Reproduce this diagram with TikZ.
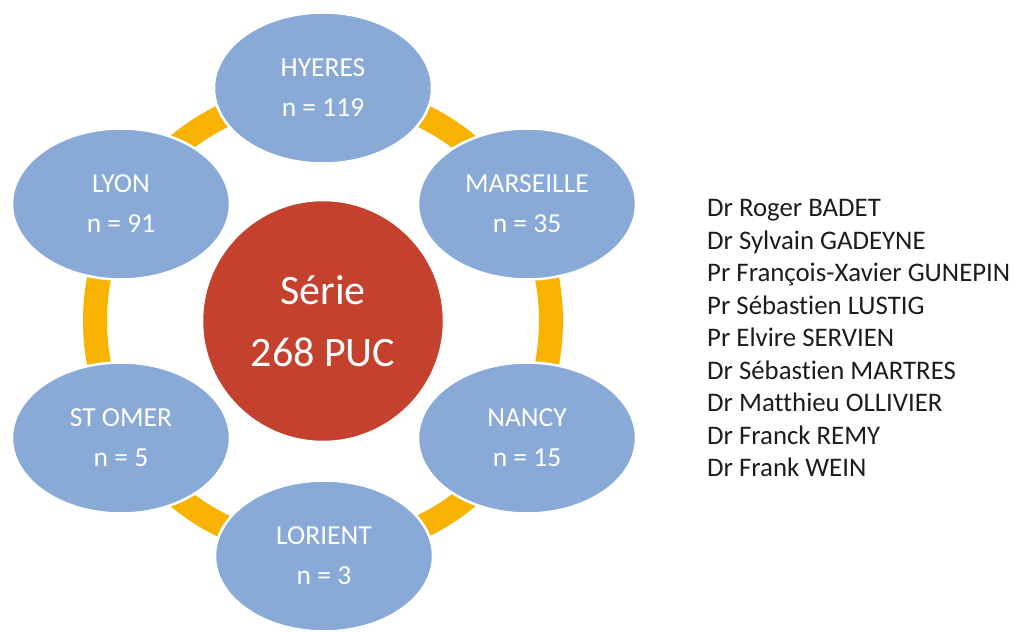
\documentclass[tikz,border=0pt]{standalone}
\usepackage{fontspec}
\setmainfont[Ligatures=NoCommon]{Carlito}
\usetikzlibrary{shapes.geometric,shadows}
\definecolor{cityblue}{HTML}{89A9D6}
\definecolor{centerred}{HTML}{C4412E}
\definecolor{ringorange}{HTML}{F8B300}
\definecolor{nametext}{HTML}{1C1C1C}
\tikzset{
  city/.style={ellipse, fill=cityblue, draw=white, line width=2.5pt,
    minimum width=218pt, minimum height=151pt, inner sep=0pt,
    text=white, align=center, font=\fontsize{27.5}{40}\selectfont,
    drop shadow={opacity=0.25, shadow xshift=0.8pt, shadow yshift=-0.8pt}},
  hub/.style={circle, fill=centerred, draw=white, line width=2.5pt,
    minimum size=242pt, inner sep=0pt, text=white, align=center,
    font=\fontsize{42}{62}\selectfont,
    drop shadow={opacity=0.25, shadow xshift=0.8pt, shadow yshift=-0.8pt}},
  person/.style={anchor=base west, inner sep=0pt, text=nametext,
    font=\fontsize{26.8}{32}\selectfont}
}
\begin{document}
\begin{tikzpicture}[x=1pt,y=1pt]
\useasboundingbox (0,0) rectangle (1015,632);
\coordinate (c) at (323,311);
\draw[ringorange, line width=24pt] (c) circle (228);
\node[hub] (serie) at (c) {Série\\268 PUC};
\node[city] (hyeres) at (323,544) {HYERES\\n = 119};
\node[city] (lyon) at (121,428) {LYON\\n = 91};
\node[city] (marseille) at (527,428) {MARSEILLE\\n = 35};
\node[city] (stomer) at (121,194) {ST OMER\\n = 5};
\node[city] (nancy) at (527,194) {NANCY\\n = 15};
\node[city] (lorient) at (324,76) {LORIENT\\n = 3};
\foreach \t [count=\i from 0] in {Dr Roger BADET, Dr Sylvain GADEYNE, Pr François-Xavier GUNEPIN, Pr Sébastien LUSTIG, Pr Elvire SERVIEN, Dr Sébastien MARTRES, Dr Matthieu OLLIVIER, Dr Franck REMY, Dr Frank WEIN}
  \node[person] (name\i) at (707, 415-32.5*\i) {\t};
\end{tikzpicture}
\end{document}
